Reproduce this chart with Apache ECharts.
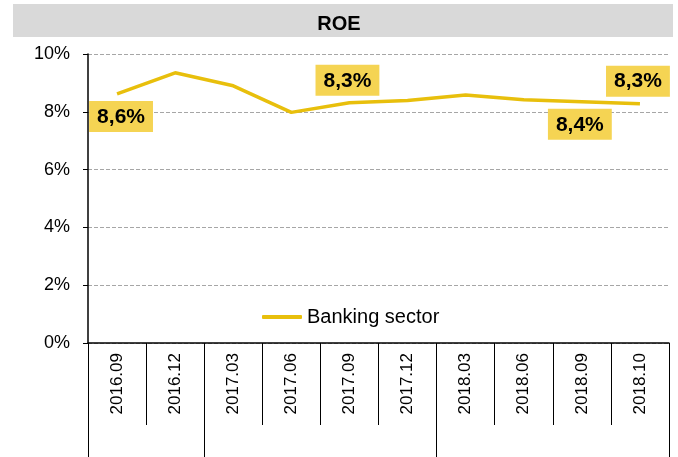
<!DOCTYPE html>
<html>
<head>
<meta charset="utf-8">
<script src="https://cdn.jsdelivr.net/npm/echarts@6/dist/echarts.min.js"></script>
<style>
  html, body { margin: 0; padding: 0; background: #fff; }
  #chart { width: 678px; height: 457px; }
</style>
</head>
<body>
<div id="chart"></div>
<script>
// data
const categories = ['2016.09', '2016.12', '2017.03', '2017.06', '2017.09', '2017.12', '2018.03', '2018.06', '2018.09', '2018.10'];
const roe = [8.62, 9.35, 8.90, 7.98, 8.31, 8.39, 8.58, 8.42, 8.35, 8.28];
const pointLabels = ['8,6%', '', '', '', '8,3%', '', '', '', '8,4%', '8,3%'];
const labelSide = ['bottom', '', '', '', 'top', '', '', '', 'bottom', 'top'];
// first category of each year group (long separators)
const groupStarts = [0, 2, 6];
const yTicks = [0, 2, 4, 6, 8, 10];

const font = 'Arial, "Liberation Sans", sans-serif';
const lineColor = '#E8BF0C';
const labelBg = '#F5D453';

const chart = echarts.init(document.getElementById('chart'));

const seriesData = roe.map((v, i) => {
  const item = { value: v };
  if (pointLabels[i]) {
    item.label = {
      show: true,
      position: labelSide[i],
      distance: 7,
      offset: i === 0 ? [4, 0] : [-2, 0],
      formatter: pointLabels[i]
    };
  }
  return item;
});

chart.setOption({
  animation: false,
  textStyle: { fontFamily: font },
  graphic: [{
    type: 'rect',
    shape: { x: 13, y: 4, width: 660, height: 33 },
    style: { fill: '#D9D9D9' },
    z: 0
  }],
  title: {
    text: 'ROE',
    left: 'center',
    top: 9,
    textStyle: { fontFamily: font, fontSize: 20, fontWeight: 'bold', color: '#000' }
  },
  legend: {
    left: 257,
    top: 302,
    icon: 'roundRect',
    itemWidth: 40,
    itemHeight: 4,
    itemGap: 5,
    textStyle: { fontFamily: font, fontSize: 20, color: '#000' },
    data: ['Banking sector']
  },
  grid: { left: 88, right: 9, top: 54, bottom: 114 },
  xAxis: [{
    type: 'category',
    data: categories,
    boundaryGap: true,
    axisLine: { lineStyle: { color: '#000', width: 1.5 } },
    axisTick: { show: true, interval: 0, length: 82, lineStyle: { color: '#000', width: 1 } },
    axisLabel: {
      interval: 0,
      rotate: 90,
      margin: 10,
      fontFamily: font,
      fontSize: 17,
      color: '#000'
    }
  }, {
    type: 'category',
    data: categories,
    position: 'bottom',
    boundaryGap: true,
    axisLine: { show: false },
    axisLabel: { show: false },
    axisTick: {
      show: true,
      interval: (i) => groupStarts.indexOf(i) >= 0,
      length: 114,
      lineStyle: { color: '#000', width: 1 }
    }
  }],
  yAxis: {
    type: 'value',
    min: yTicks[0],
    max: yTicks[yTicks.length - 1],
    interval: 2,
    axisLine: { show: true, lineStyle: { color: '#000', width: 1.5 } },
    axisTick: { show: true, length: 5, lineStyle: { color: '#000' } },
    axisLabel: {
      margin: 18,
      fontFamily: font,
      fontSize: 18,
      color: '#000',
      formatter: '{value}%'
    },
    splitLine: {
      show: true,
      lineStyle: { color: '#A6A6A6', width: 1, type: [4, 2] }
    }
  },
  series: [{
    name: 'Banking sector',
    type: 'line',
    data: seriesData,
    symbol: 'circle',
    symbolSize: 0.1,
    showSymbol: true,
    lineStyle: { color: lineColor, width: 3.5 },
    itemStyle: { color: lineColor },
    label: {
      fontFamily: font,
      fontSize: 21,
      fontWeight: 'bold',
      color: '#000',
      backgroundColor: labelBg,
      padding: [5, 8, 4, 8],
      lineHeight: 22
    }
  }]
});
</script>
</body>
</html>
